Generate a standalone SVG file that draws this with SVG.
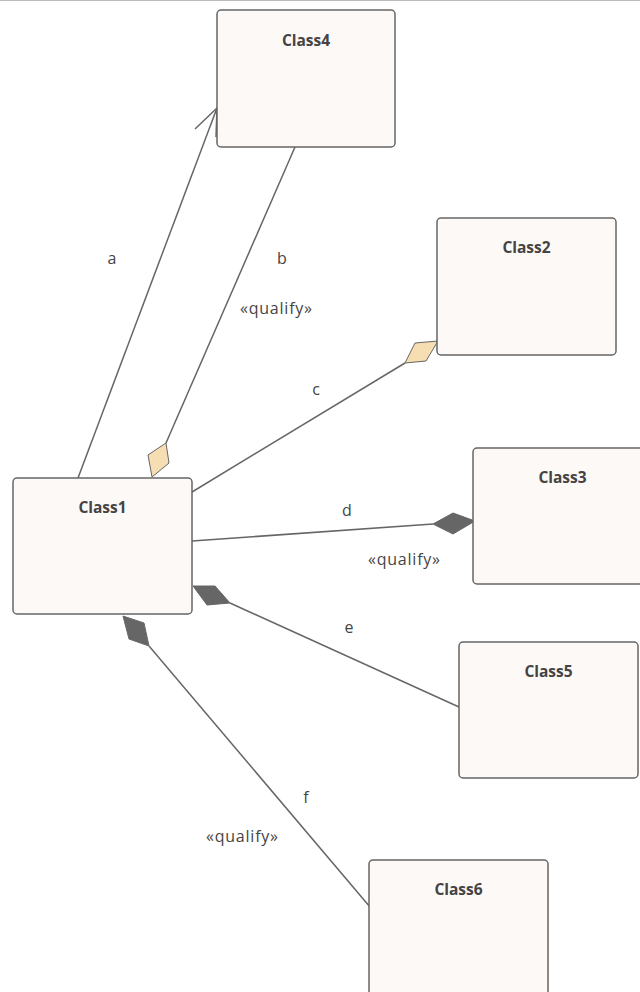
<svg xmlns="http://www.w3.org/2000/svg" width="640" height="992" viewBox="0 0 640 992">
<style>
.box{fill:#FDF9F7;stroke:#666;stroke-width:1.5}
.name{font-family:"Open Sans","Liberation Sans",sans-serif;font-weight:bold;font-size:15.5px;fill:#444;text-anchor:middle}
.lbl{font-family:"Open Sans","Liberation Sans",sans-serif;font-size:16px;fill:#444;text-anchor:middle}
.ln{fill:none;stroke:#666;stroke-width:1.5}
.dk{fill:#666;stroke:#666;stroke-width:1}
.lt{fill:#F7DDB2;stroke:#666;stroke-width:1}
</style>
<rect x="0" y="0" width="640" height="992" fill="#fff"/>
<line x1="0" y1="0.5" x2="640" y2="0.5" stroke="#bbb" stroke-width="1"/>
<g id="connectors">
<g id="conn-a">
<line class="ln" x1="78" y1="478" x2="217" y2="108"/>
<polyline class="ln" points="195,129 217,108 216,137"/>
<text class="lbl" x="112" y="264">a</text>
</g>
<g id="conn-b">
<line class="ln" x1="166" y1="443" x2="295" y2="147"/>
<polygon class="lt" points="152,477 148,455 166,443 169,463"/>
<text class="lbl" x="282" y="264">b</text>
<text class="lbl" x="276" y="314" textLength="72" lengthAdjust="spacing">«qualify»</text>
</g>
<g id="conn-c">
<line class="ln" x1="192" y1="492" x2="405" y2="363"/>
<polygon class="lt" points="438,341 415,343 405,363 426,361"/>
<text class="lbl" x="316" y="395">c</text>
</g>
<g id="conn-d">
<line class="ln" x1="192" y1="541" x2="433" y2="524"/>
<polygon class="dk" points="475,521 453,513 433,524 453,534"/>
<text class="lbl" x="347" y="516">d</text>
<text class="lbl" x="404" y="565" textLength="72" lengthAdjust="spacing">«qualify»</text>
</g>
<g id="conn-e">
<line class="ln" x1="230" y1="603" x2="459" y2="707"/>
<polygon class="dk" points="193,586 215,586 230,603 207,605"/>
<text class="lbl" x="349" y="633">e</text>
</g>
<g id="conn-f">
<line class="ln" x1="149" y1="646" x2="370" y2="907"/>
<polygon class="dk" points="123,616 144,623 149,646 129,639"/>
<text class="lbl" x="306" y="803">f</text>
<text class="lbl" x="242" y="842" textLength="72" lengthAdjust="spacing">«qualify»</text>
</g>
</g>
<g id="Class4">
<rect class="box" x="217" y="10" width="178" height="137" rx="4"/>
<text class="name" x="306" y="46">Class4</text>
</g>
<g id="Class2">
<rect class="box" x="437" y="218" width="179" height="137" rx="4"/>
<text class="name" x="526.5" y="253">Class2</text>
</g>
<g id="Class1">
<rect class="box" x="13" y="478" width="179" height="136" rx="4"/>
<text class="name" x="102.5" y="513">Class1</text>
</g>
<g id="Class3">
<rect class="box" x="473" y="448" width="179" height="136" rx="4"/>
<text class="name" x="562.5" y="483">Class3</text>
</g>
<g id="Class5">
<rect class="box" x="459" y="642" width="179" height="136" rx="4"/>
<text class="name" x="548.5" y="677">Class5</text>
</g>
<g id="Class6">
<rect class="box" x="369" y="860" width="179" height="140" rx="4"/>
<text class="name" x="458.5" y="895">Class6</text>
</g>
</svg>
